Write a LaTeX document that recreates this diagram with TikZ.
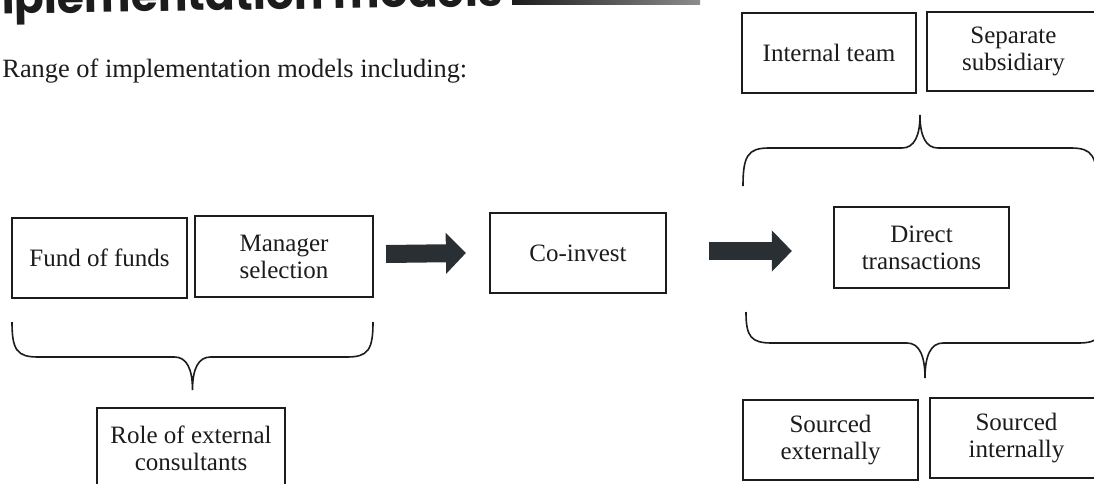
\documentclass[tikz,border=0pt]{standalone}
\usepackage{fontspec}
\setmainfont{Liberation Serif}
\newfontfamily\headfont{Poppins}
\usetikzlibrary{arrows.meta,calc}

\definecolor{ink}{RGB}{28,28,28}
\definecolor{arrowfill}{RGB}{42,47,52}

\tikzset{
  box/.style={draw=ink, line width=1.1pt, fill=white, text=ink, align=center,
    inner sep=0pt, font=\fontsize{12.5pt}{13.5pt}\selectfont},
  bracecurve/.style={draw=ink, line width=0.8pt},
  blockarrow/.style={draw=arrowfill, line width=9pt,
    -{Triangle[length=10pt,width=20pt]}},
}

% curly brace: x of both ends, y of the ends, y of the long edges, y of the tip
\newcommand\curlybrace[5]{%
  \pgfmathsetmacro\bmid{(#1+#2)/2}
  \draw[bracecurve] (#1,#3) .. controls (#1,{#3+0.8*(#4-#3)}) and ({#1+5},#4) .. ({#1+26},#4)
    -- ({\bmid-18},#4) .. controls ({\bmid-6},#4) and (\bmid,{#4+0.35*(#5-#4)}) .. (\bmid,#5)
    .. controls (\bmid,{#4+0.35*(#5-#4)}) and ({\bmid+6},#4) .. ({\bmid+18},#4)
    -- ({#2-26},#4) .. controls ({#2-5},#4) and (#2,{#3+0.8*(#4-#3)}) .. (#2,#3);
}

\begin{document}
\begin{tikzpicture}[x=0.5pt,y=-0.5pt]
\useasboundingbox (0,0) rectangle (1094,483);
\clip (0,0) rectangle (1094,483);

% heading and rule
\node[anchor=base east, inner sep=0pt, text=ink, rotate=0.9,
  font=\headfont\bfseries\fontsize{22pt}{24pt}\selectfont] (title) at (503,6) {Implementation models};
\shade[left color=ink, right color=black!45] (512,-5) rectangle (700,4);

\node[anchor=base west, inner sep=0pt, text=ink,
  font=\fontsize{13.2pt}{15pt}\selectfont] (intro) at (2,77) {Range of implementation models including:};

% boxes
\node[box, minimum width=87.5pt, minimum height=40pt]   (ff)   at (99.5,258)   {Fund of funds};
\node[box, minimum width=89pt,   minimum height=40.5pt] (mgr)  at (284,256.5)  {Manager\\selection};
\node[box, minimum width=88pt,   minimum height=40pt]   (co)   at (578,253)    {Co-invest};
\node[box, minimum width=87.5pt, minimum height=40.5pt] (dt)   at (921.5,247.5){Direct\\transactions};
\node[box, minimum width=87pt,   minimum height=40pt]   (it)   at (829,53)     {Internal team};
\node[box, minimum width=86.5pt, minimum height=39.5pt] (ss)   at (1013.5,51.5){Separate\\subsidiary};
\node[box, minimum width=87.5pt, minimum height=40pt]   (se)   at (830.5,440)  {Sourced\\externally};
\node[box, minimum width=86.5pt, minimum height=40pt]   (si)   at (1016.5,438) {Sourced\\internally};
\node[box, minimum width=94pt,   minimum height=40pt]   (role) at (191,448)    {Role of external\\consultants};

% block arrows
\draw[blockarrow] ($(mgr.east |- co.west)+(12,1)$) -- ($(co.west)+(-23,0)$);
\draw[blockarrow] ($(co.east)+(42,-2)$) -- ($(dt.west |- co.east)+(-41,-2)$);

% braces
\curlybrace{12}{373}{322}{357}{390}
\curlybrace{743}{1097}{186}{148}{115}
\curlybrace{746}{1104}{312}{343}{378}
\end{tikzpicture}
\end{document}
